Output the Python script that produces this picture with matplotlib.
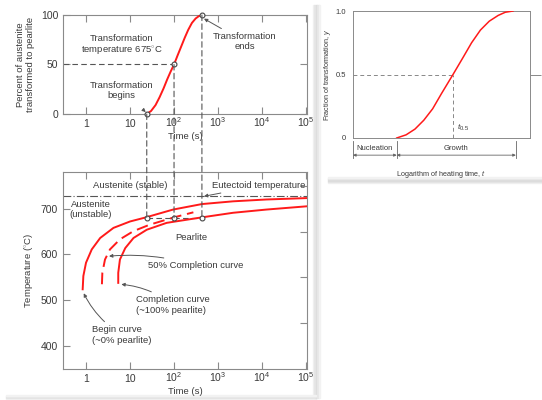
import matplotlib.pyplot as plt
from matplotlib.patches import Rectangle, ConnectionPatch
from matplotlib.ticker import NullLocator
import numpy as np

plt.rcParams['font.family'] = ['Liberation Sans', 'DejaVu Sans']
plt.rcParams['mathtext.fontset'] = 'custom'
plt.rcParams['mathtext.rm'] = 'Liberation Sans'
plt.rcParams['mathtext.it'] = 'Liberation Sans:italic'
plt.rcParams['font.size'] = 6.8

TXT = '#3a3a3a'
SPINE = '#8a8a8a'
RED = '#ff1a1a'

# === DATOS ===
# curva superior: porcentaje transformado a 675 C
t_top = [24, 30, 38, 47, 58, 70, 84, 100, 120, 145, 175, 210, 255, 310, 370, 430]
pct_top = [0, 3, 9, 17, 26, 35, 43, 50, 59, 68, 77, 85, 92, 96.5, 99, 100]

# curvas TTT (tiempo en s, temperatura en C)
t_begin = [0.84, 0.87, 1.0, 1.35, 2.1, 4.2, 10, 23, 95, 430, 2200, 12500, 100000]
T_begin = [524, 553, 582, 611, 636, 658, 672, 681, 698, 710, 716, 720, 723]

t_half = [2.3, 2.35, 2.7, 3.5, 5.9, 12, 28, 100, 275]
T_half = [535, 560, 589, 611, 633, 651, 665, 681, 692]

t_end = [5.4, 5.4, 5.9, 7.8, 12, 24, 68, 430, 2200, 12500, 100000]
T_end = [538, 560, 589, 614, 636, 654, 669, 681, 691, 698, 705]

t_marks = [24, 100, 430]
pct_marks = [0, 50, 100]
T_iso = 680
T_eutectoid = 727

# curva derecha: fraccion transformada vs log(tiempo)
x_right = [2.47, 3.0, 3.5, 4.0, 4.5, 5.0, 5.65, 6.2, 6.7, 7.2, 7.7, 8.2, 8.6, 9.04]
y_right = [0, 0.025, 0.07, 0.14, 0.23, 0.35, 0.5, 0.63, 0.75, 0.85, 0.92, 0.965, 0.99, 1.0]
x_half = 5.65

xticks = [1, 10, 100, 1000, 10000, 100000]
xticklabels = ['1', '10', '10$^2$', '10$^3$', '10$^4$', '10$^5$']

fig = plt.figure(figsize=(5.42, 4.0), dpi=100)

# tarjetas con sombra (suave)
for i, c in enumerate(['#f2f2f2', '#e6e6e6', '#dcdcdc', '#e6e6e6', '#f2f2f2']):
    fig.patches.append(Rectangle(((313 + i * 1.4)/542, 2/400), 1.4/542, 393/400,
                                 transform=fig.transFigure, color=c, zorder=-5))
    fig.patches.append(Rectangle((6/542, (1 + i * 0.8)/400), 310/542, 0.8/400,
                                 transform=fig.transFigure, color=c, zorder=-5))
    fig.patches.append(Rectangle((328/542, 1-(183 - i * 1.2)/400), 214/542, 1.2/400,
                                 transform=fig.transFigure, color=c, zorder=-5))


def style_axes(ax):
    for s in ax.spines.values():
        s.set_color(SPINE)
        s.set_linewidth(0.8)
    ax.tick_params(direction='in', colors=SPINE, labelcolor=TXT, length=5, width=0.8,
                   top=True, right=True, labelsize=7.5)
    ax.xaxis.set_minor_locator(NullLocator())
    # etiquetas del eje x alineadas por la linea base (superindices)
    ax.set_xticks(xticks)
    ax.set_xticklabels(xticklabels, va='baseline')
    ax.tick_params(axis='x', pad=9.5)


# === PANEL SUPERIOR ===
ax1 = fig.add_axes([63/542, 1-114/400, 244/542, 99/400])
ax1.plot(t_top, pct_top, color=RED, lw=1.4, zorder=3)
ax1.set_xscale('log')
ax1.set_xlim(0.3, 1.05e5)
ax1.set_ylim(0, 100)
ax1.set_yticks([0, 50, 100])
style_axes(ax1)
ax1.set_xlabel('Time (s)', color=TXT, labelpad=2)
ax1.set_ylabel('Percent of austenite\ntransformed to pearlite', color=TXT, labelpad=4)
ax1.plot([0.3, 100], [50, 50], color='#555555', lw=0.8, ls=(0, (5, 3)), zorder=2)
ax1.plot(t_marks, pct_marks, 'o', ms=3.5, mfc='white', mec='#444444', mew=0.8,
         zorder=5, clip_on=False)
ax1.text(6.5, 69, 'Transformation\ntemperature 675$^{\\circ}$C', ha='center', va='center',
         color=TXT)
ax1.annotate('Transformation\nbegins', xy=(24, 1), xytext=(6.5, 24), ha='center', va='center',
             color=TXT,
             arrowprops=dict(arrowstyle='-|>', color='#555555', lw=0.7, mutation_scale=5,
                             shrinkA=8, shrinkB=1))
ax1.annotate('Transformation\nends', xy=(450, 97), xytext=(4000, 73), ha='center', va='center',
             color=TXT,
             arrowprops=dict(arrowstyle='-|>', color='#555555', lw=0.7, mutation_scale=5,
                             shrinkA=1, shrinkB=1))

# === PANEL INFERIOR ===
ax2 = fig.add_axes([63/542, 1-369/400, 244/542, 197/400])
ax2.plot(t_begin, T_begin, color=RED, lw=1.4, zorder=3)
ax2.plot(t_half, T_half, color=RED, lw=1.4, ls=(0, (6, 3)), zorder=3)
ax2.plot(t_end, T_end, color=RED, lw=1.4, zorder=3)
ax2.set_xscale('log')
ax2.set_xlim(0.3, 1.05e5)
ax2.set_ylim(350, 780)
ax2.set_yticks([400, 500, 600, 700])
style_axes(ax2)
ax2.set_yticks(np.arange(400, 751, 50), minor=True)
ax2.tick_params(axis='y', which='minor', right=True, left=False, length=5, direction='in',
                colors=SPINE, width=0.8)
ax2.tick_params(axis='y', which='major', right=False)
ax2.set_xlabel('Time (s)', color=TXT, labelpad=2)
ax2.set_ylabel('Temperature ($^{\\circ}$C)', color=TXT, labelpad=4)

ax2.axhline(T_eutectoid, color='#555555', lw=0.8, ls=(0, (7, 2, 1, 2)), zorder=2)
ax2.plot([t_marks[0], t_marks[-1]], [T_iso, T_iso], color='#555555', lw=0.8,
         ls=(0, (5, 3)), zorder=2)
ax2.plot(t_marks, [T_iso] * 3, 'o', ms=3.5, mfc='white', mec='#444444', mew=0.8, zorder=5)

ax2.text(10, 750, 'Austenite (stable)', ha='center', va='center', color=TXT)
ax2.text(1.3, 698, 'Austenite\n(unstable)', ha='center', va='center', color=TXT)
ax2.text(250, 636, 'Pearlite', ha='center', va='center', color=TXT)
ax2.annotate('Eutectoid temperature', xy=(480, T_eutectoid), xytext=(720, 750),
             ha='left', va='center', color=TXT,
             arrowprops=dict(arrowstyle='-|>', color='#555555', lw=0.7, mutation_scale=5,
                             shrinkA=0, shrinkB=0))
ax2.annotate('50% Completion curve', xy=(3.1, 596), xytext=(26, 576),
             ha='left', va='center', color=TXT,
             arrowprops=dict(arrowstyle='-|>', color='#555555', lw=0.7, mutation_scale=5,
                             shrinkA=1, shrinkB=1, connectionstyle='arc3,rad=0.1'))
ax2.annotate('Completion curve\n(~100% pearlite)', xy=(5.9, 535), xytext=(14, 490),
             ha='left', va='center', color=TXT,
             arrowprops=dict(arrowstyle='-|>', color='#555555', lw=0.7, mutation_scale=5,
                             shrinkA=1, shrinkB=1, connectionstyle='arc3,rad=0.15'))
ax2.annotate('Begin curve\n(~0% pearlite)', xy=(0.86, 518), xytext=(1.4, 424),
             ha='left', va='center', color=TXT,
             arrowprops=dict(arrowstyle='-|>', color='#555555', lw=0.7, mutation_scale=5,
                             shrinkA=1, shrinkB=1, connectionstyle='arc3,rad=-0.15'))

# lineas verticales entre paneles
for t, p in zip(t_marks, pct_marks):
    con = ConnectionPatch(xyA=(t, p), coordsA=ax1.transData, xyB=(t, T_iso),
                          coordsB=ax2.transData, color='#555555', lw=0.8,
                          ls=(0, (5, 3)), zorder=1)
    fig.add_artist(con)

# === PANEL DERECHO ===
ax3 = fig.add_axes([353/542, 1-138/400, 177/542, 127/400])
ax3.plot(x_right, y_right, color=RED, lw=1.1, zorder=3)
ax3.set_xlim(0, 10)
ax3.set_ylim(0, 1.0)
ax3.set_xticks([])
ax3.set_yticks([0, 0.5, 1.0])
ax3.set_yticklabels(['0', '0.5', '1.0'])
for s in ax3.spines.values():
    s.set_color(SPINE)
    s.set_linewidth(0.7)
ax3.tick_params(axis='y', direction='in', length=0, labelsize=5.5, labelcolor=TXT, pad=5)
ax3r = ax3.secondary_yaxis('right')
ax3r.set_yticks([0.5])
ax3r.set_yticklabels([''])
ax3r.tick_params(direction='out', length=8, width=0.7, colors='#888888')
ax3r.spines['right'].set_visible(False)
ax3.plot([0, x_half], [0.5, 0.5], color='#888888', lw=0.7, ls=(0, (4, 3)), zorder=2)
ax3.plot([x_half, x_half], [0, 0.5], color='#888888', lw=0.7, ls=(0, (4, 3)), zorder=2)
ax3.text(x_half + 0.2, 0.04, '$t_{0.5}$', color=TXT, fontsize=6, ha='left', va='bottom')
ax3.set_ylabel('Fraction of transformation, $y$', color=TXT, fontsize=5.2, labelpad=2)
ax3.set_xlabel('Logarithm of heating time, $t$', color=TXT, fontsize=5.2, labelpad=22)

# llaves Nucleation / Growth
for xb in [0, x_right[0], 9.2]:
    ax3.plot([xb, xb], [-0.02, -0.16], color='#666666', lw=0.6, clip_on=False)
for x0, x1, lab in [(0, x_right[0], 'Nucleation'), (x_right[0], 9.2, 'Growth')]:
    ax3.annotate('', xy=(x0, -0.135), xytext=(x1, -0.135),
                 arrowprops=dict(arrowstyle='<|-|>', color='#666666', lw=0.6,
                                 mutation_scale=4, shrinkA=0, shrinkB=0),
                 annotation_clip=False)
    ax3.text((x0 + x1) / 2, -0.085, lab, ha='center', va='center', color=TXT, fontsize=5.5)

plt.savefig('out.png', dpi=100)
